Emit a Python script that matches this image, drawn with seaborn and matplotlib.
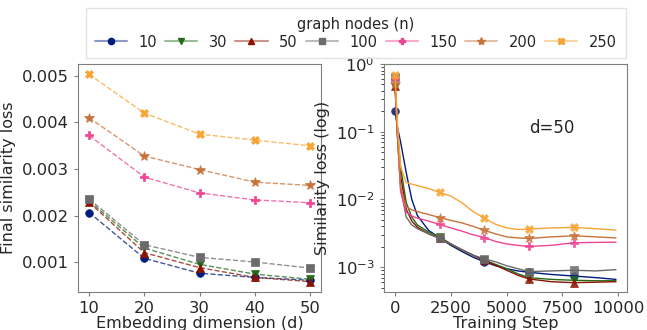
import numpy as np
import pandas as pd
import matplotlib
matplotlib.use("Agg")
import matplotlib.pyplot as plt
import seaborn as sns
from matplotlib.lines import Line2D
from matplotlib.colors import to_rgba

# series: graph nodes (n)
nodes = ['10', '30', '50', '100', '150', '200', '250']
colors = ['#001c7f', '#236b1b', '#8c1200', '#6b6b6b', '#ef4592', '#c8733a', '#f8a535']
markers = ['o', 'v', '^', 's', 'P', '*', 'X']

# left panel: final loss vs embedding dimension
dims = [10, 20, 30, 40, 50]
final_loss = {
    '10':  [0.00207, 0.00109, 0.00077, 0.00068, 0.00062],
    '30':  [0.00232, 0.00131, 0.00096, 0.00075, 0.00064],
    '50':  [0.00229, 0.00121, 0.00089, 0.00068, 0.00059],
    '100': [0.00236, 0.00138, 0.00111, 0.00101, 0.00088],
    '150': [0.00372, 0.00283, 0.00249, 0.00234, 0.00228],
    '200': [0.00410, 0.00328, 0.00299, 0.00272, 0.00265],
    '250': [0.00503, 0.00420, 0.00375, 0.00362, 0.00350],
}

# right panel: loss curve over training (d=50)
steps = [0, 100, 250, 500, 750, 1000, 1500, 2000, 2500, 3000, 3500, 4000,
         4500, 5000, 5500, 6000, 7000, 8000, 9000, 9900]
mark_idx = [0, 7, 11, 15, 17]  # steps 0, 2000, 4000, 6000, 8000
train_loss = {
    '10':  [0.2, 0.12, 0.07, 0.025, 0.01, 0.0058, 0.0035, 0.0027, 0.0021, 0.0017, 0.0014, 0.0012,
            0.00105, 0.00095, 0.00088, 0.00084, 0.00078, 0.00074, 0.0007, 0.00066],
    '30':  [0.46, 0.11, 0.03, 0.009, 0.0055, 0.0042, 0.0033, 0.0028, 0.0022, 0.0018, 0.0015, 0.00128,
            0.0011, 0.00095, 0.0008, 0.0007, 0.00066, 0.00064, 0.00063, 0.00063],
    '50':  [0.47, 0.1, 0.022, 0.0072, 0.0048, 0.0039, 0.0031, 0.0027, 0.0022, 0.0018, 0.0015, 0.00126,
            0.00107, 0.0009, 0.00076, 0.00067, 0.00061, 0.00059, 0.0006, 0.00061],
    '100': [0.65, 0.09, 0.015, 0.0055, 0.0042, 0.0037, 0.0031, 0.00265, 0.0022, 0.0018, 0.0015, 0.00133,
            0.0012, 0.00105, 0.00095, 0.00086, 0.00088, 0.0009, 0.00088, 0.00092],
    '150': [0.6, 0.1, 0.013, 0.0065, 0.0057, 0.0053, 0.0048, 0.00427, 0.0038, 0.0034, 0.003, 0.00274,
            0.0024, 0.0022, 0.0021, 0.00202, 0.0021, 0.00229, 0.00232, 0.00234],
    '200': [0.5, 0.1, 0.015, 0.0078, 0.007, 0.0066, 0.006, 0.0054, 0.0049, 0.0045, 0.004, 0.0035,
            0.0031, 0.0028, 0.0027, 0.00265, 0.0028, 0.0029, 0.0028, 0.0027],
    '250': [0.69, 0.15, 0.03, 0.0178, 0.0168, 0.016, 0.0145, 0.0127, 0.0112, 0.0089, 0.0066, 0.0053,
            0.0043, 0.0038, 0.0036, 0.00365, 0.0038, 0.00386, 0.0037, 0.00352],
}

sns.set_style("ticks")
plt.rcParams['font.family'] = ['DejaVu Sans']
plt.rcParams['font.size'] = 11.5
plt.rcParams['axes.edgecolor'] = '#7f7f7f'

fig = plt.figure(figsize=(6.47, 3.30), dpi=100)
ax1 = fig.add_axes([0.1206, 0.1152, 0.3756, 0.691])
ax2 = fig.add_axes([0.5935, 0.1152, 0.3756, 0.691])

def msize(m):
    return 7 if m == '*' else 6 if m == 'P' else 5.5

# left panel
for n, c, m in zip(nodes, colors, markers):
    df = pd.DataFrame({'d': dims, 'loss': final_loss[n]})
    sns.lineplot(data=df, x='d', y='loss', ax=ax1, color=to_rgba(c, 0.75),
                 linestyle='--', linewidth=1, marker=m, markersize=msize(m),
                 markerfacecolor=c, markeredgecolor=c, markeredgewidth=0.5)
ax1.set_xticks(dims)
ax1.set_yticks([0.001, 0.002, 0.003, 0.004, 0.005])
ax1.set_xlabel('Embedding dimension (d)', labelpad=0)
ax1.set_ylabel('Final similarity loss')

# right panel
for n, c, m in zip(nodes, colors, markers):
    df = pd.DataFrame({'step': steps, 'loss': train_loss[n]})
    sns.lineplot(data=df, x='step', y='loss', ax=ax2, color=c, linewidth=1,
                 marker=m, markevery=mark_idx, markersize=msize(m),
                 markerfacecolor=to_rgba(c, 0.85), markeredgecolor=to_rgba(c, 0.85),
                 markeredgewidth=0.5)
ax2.set_yscale('log')
ax2.set_ylim(0.00043, 1)
ax2.set_xticks([0, 2500, 5000, 7500, 10000])
ax2.set_xlabel('Training Step', labelpad=0)
ax2.set_ylabel('Similarity loss (log)')
ax2.text(0.69, 0.72, 'd=50', transform=ax2.transAxes, ha='center', va='center', fontsize=12)

for ax in (ax1, ax2):
    ax.tick_params(length=3, width=0.8, color='#7f7f7f', labelsize=11.8)

handles = [Line2D([], [], color=to_rgba(c, 0.45), linewidth=1.5, marker=m,
                  markersize=6 if m == '*' else 4.5, markerfacecolor=c, markeredgecolor=c)
           for c, m in zip(colors, markers)]
fig.legend(handles, nodes, title='graph nodes (n)', ncol=7, loc='upper center',
           bbox_to_anchor=(0.550, 0.976), borderaxespad=0, fontsize=10.5, title_fontsize=10.5,
           frameon=True, handlelength=2.2, columnspacing=0.55, handletextpad=0.8,
           borderpad=0.6, labelspacing=0.2, edgecolor='#dddddd', fancybox=False)

fig.savefig('out.png', dpi=100)
